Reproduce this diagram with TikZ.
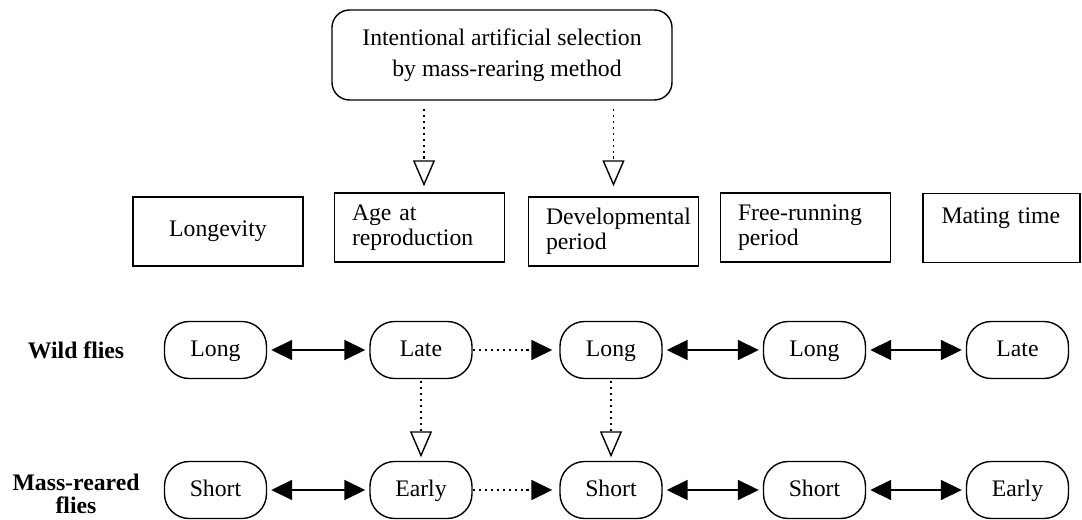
\documentclass[tikz,border=0pt]{standalone}
\usepackage{fontspec}
\setmainfont{Liberation Serif}
\usetikzlibrary{arrows.meta}

\begin{document}
\begin{tikzpicture}[
    font=\fontsize{13.5}{14.5}\selectfont,
    trait/.style={draw,line width=0.8pt,minimum width=3.4cm,minimum height=1.38cm,
                  text width=2.7cm,align=left,inner sep=0pt},
    state/.style={draw,line width=0.8pt,rounded corners=14pt,minimum width=2.04cm,
                  minimum height=1.14cm,inner sep=0pt,text height=2.1ex,text depth=0.5ex},
    link/.style={{Triangle[length=0.42cm,width=0.4cm]}-{Triangle[length=0.42cm,width=0.4cm]},
                 line width=1pt,shorten <=0.08cm,shorten >=0.08cm},
    push/.style={-{Triangle[length=0.42cm,width=0.4cm]},line width=1pt,
                 dash pattern=on 1.3pt off 2.1pt,shorten >=0.14cm},
    sel/.style={-{Triangle[open,length=0.52cm,width=0.44cm,line width=0.8pt]},line width=1.1pt,
                dash pattern=on 1.3pt off 2.1pt}]
  \useasboundingbox (0,0) rectangle (21.64,-10.4);
  % --- selection box (top) ---
  \node[draw,line width=0.8pt,rounded corners=10pt,minimum width=6.8cm,minimum height=1.8cm,
        align=center] (top) at (10.04,-1.1)
       {Intentional artificial selection\\[3pt]\hspace*{0.2cm}by mass-rearing method};
  % --- life-history traits ---
  \node[trait,align=center] (lon) at (4.36,-4.63) {Longevity};
  \node[trait] (age) at (8.39,-4.55) {Age at\\reproduction};
  \node[trait] (dev) at (12.27,-4.63) {Developmental\\period};
  \node[trait] (free) at (16.11,-4.55) {Free-running\\period};
  \node[trait,minimum width=3.14cm,text width=2.4cm] (mate) at (20.03,-4.56) {Mating time\\\mbox{}};
  % --- row labels ---
  \node[font=\fontsize{13.5}{14.5}\selectfont\bfseries] (wild) at (1.52,-7.0) {Wild flies};
  \node[font=\fontsize{13.5}{14.5}\selectfont\bfseries,align=center] (mass) at (1.52,-9.88)
       {Mass-reared\\[-1pt]flies};
  % --- wild flies ---
  \node[state] (w1) at (4.31,-7.0) {Long};
  \node[state] (w2) at (8.42,-7.0) {Late};
  \node[state] (w3) at (12.22,-7.0) {Long};
  \node[state] (w4) at (16.29,-7.0) {Long};
  \node[state] (w5) at (20.35,-7.0) {Late};
  % --- mass-reared flies ---
  \node[state] (m1) at (4.31,-9.8) {Short};
  \node[state] (m2) at (8.42,-9.8) {Early};
  \node[state] (m3) at (12.22,-9.8) {Short};
  \node[state] (m4) at (16.29,-9.8) {Short};
  \node[state] (m5) at (20.35,-9.8) {Early};
  % selection acts on two traits
  \draw[sel,shorten <=0.16cm,shorten >=0.12cm] (top.south -| 8.48,0) -- (age.north -| 8.48,0);
  \draw[sel,shorten <=0.16cm,shorten >=0.2cm] (top.south -| dev.north) -- (dev.north);
  % links within each row
  \draw[link] (w1) -- (w2);
  \draw[push] (w2) -- (w3);
  \draw[link] (w3) -- (w4);
  \draw[link] (w4) -- (w5);
  \draw[link] (m1) -- (m2);
  \draw[push] (m2) -- (m3);
  \draw[link] (m3) -- (m4);
  \draw[link] (m4) -- (m5);
  % wild -> mass-reared
  \draw[sel,shorten <=0.04cm,shorten >=0.07cm] (w2) -- (m2);
  \draw[sel,shorten <=0.04cm,shorten >=0.07cm] (w3) -- (m3);
\end{tikzpicture}
\end{document}
